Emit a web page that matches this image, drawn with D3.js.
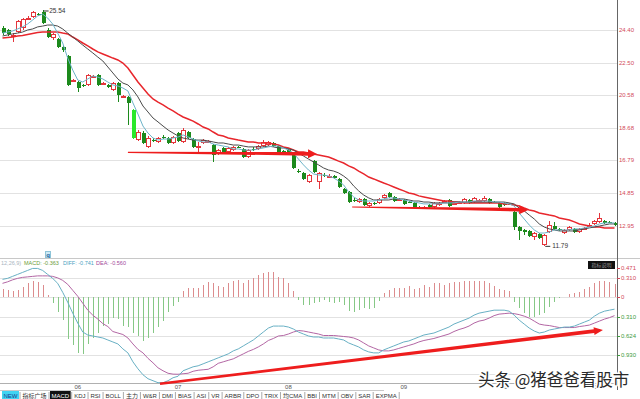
<!DOCTYPE html>
<html>
<head>
<meta charset="utf-8">
<title>K线 MACD</title>
<style>
  body { margin: 0; background: #fff; }
  svg { display: block; }
</style>
</head>
<body>
<script src="https://d3js.org/d3.v7.min.js"></script>
<script>
// daily candles
const opens = [
  24.52,24.40,23.99,24.28,24.52,25.04,25.16,25.33,25.45,24.40,
  23.93,23.87,23.41,22.88,21.42,21.36,21.19,21.19,21.65,21.77,
  21.25,21.19,20.90,21.30,20.49,20.49,19.73,17.97,18.38,17.57,
  17.97,17.86,18.15,18.09,17.80,18.38,17.86,18.44,18.03,17.51,
  17.80,17.86,17.68,17.16,17.51,17.27,17.39,17.57,17.45,16.98,
  17.45,17.45,17.62,17.68,17.80,17.62,17.33,17.39,17.10,16.16,
  16.05,15.52,16.75,15.52,15.93,15.84,15.87,15.70,15.11,14.94,
  14.47,14.36,14.53,14.12,14.30,14.30,14.59,14.88,14.65,14.50,
  14.47,14.36,14.30,14.03,14.03,14.18,14.06,14.18,14.38,14.47,
  14.27,14.33,14.30,14.47,14.36,14.44,14.41,14.53,14.36,14.30,
  14.30,14.24,13.77,12.90,12.72,12.66,12.31,12.49,11.84,12.60,
  12.95,12.78,12.55,12.72,12.78,12.60,12.81,12.98,13.07,13.19,
  13.24,13.19,13.13];
const highs = [
  24.63,24.46,24.22,24.98,25.10,25.22,25.51,25.39,25.54,24.52,
  24.22,23.93,23.52,22.94,21.54,21.42,21.25,21.83,21.77,21.83,
  21.36,21.25,21.36,21.36,20.60,20.55,19.79,18.56,18.50,18.21,
  18.09,18.15,18.27,18.15,18.21,18.44,18.68,18.50,18.09,17.86,
  18.03,17.97,17.74,17.45,17.57,17.57,17.62,17.62,17.51,17.45,
  17.57,17.68,17.97,17.91,17.86,17.68,17.39,17.45,17.16,16.28,
  16.11,15.99,16.81,16.11,16.05,15.99,15.93,15.76,15.17,15.00,
  14.59,14.59,14.59,14.36,14.36,14.59,14.82,14.94,14.71,14.59,
  14.53,14.41,14.36,14.12,14.12,14.24,14.36,14.36,14.47,14.53,
  14.36,14.41,14.59,14.53,14.65,14.53,14.71,14.59,14.41,14.36,
  14.36,14.30,13.83,12.95,12.78,12.72,12.60,12.55,12.49,13.24,
  13.19,12.84,12.78,12.95,12.84,12.84,12.90,13.13,13.30,13.71,
  13.30,13.24,13.19];
const lows = [
  24.11,24.05,23.70,24.22,24.40,24.98,25.10,25.22,24.75,23.93,
  23.82,23.35,23.12,21.13,21.36,20.78,21.07,21.13,21.60,21.13,
  21.19,21.01,20.84,20.19,20.43,18.85,18.03,17.91,17.74,17.51,
  17.86,17.80,18.03,17.74,17.74,17.86,17.80,18.03,17.51,17.22,
  17.74,17.80,16.69,17.10,17.16,17.22,17.33,17.51,16.92,16.92,
  17.33,17.39,17.57,17.62,17.57,17.22,17.22,17.16,16.28,16.05,
  15.64,15.46,16.05,15.11,15.81,15.76,15.70,15.17,14.82,14.30,
  14.36,14.30,14.12,14.06,14.18,14.24,14.53,14.59,14.36,14.47,
  14.18,14.30,14.01,13.95,14.01,14.01,14.01,14.12,14.36,14.06,
  14.24,14.30,14.24,14.24,14.30,14.41,14.36,14.24,14.30,14.01,
  14.12,14.18,12.72,12.13,12.43,12.31,12.13,12.19,11.79,12.55,
  12.72,12.66,12.49,12.66,12.55,12.55,12.78,12.95,13.01,13.13,
  13.07,13.13,12.95];
const closes = [
  24.22,24.17,24.11,24.93,25.04,25.10,25.45,25.28,24.81,23.99,
  24.17,23.41,23.23,21.19,21.48,21.01,21.16,21.77,21.71,21.19,
  21.30,21.07,21.30,20.60,20.55,20.14,18.09,18.44,17.80,18.09,
  17.94,18.09,18.12,17.80,18.15,17.91,18.56,18.09,17.57,17.62,
  17.97,17.89,17.10,17.39,17.22,17.51,17.57,17.54,16.98,17.39,
  17.42,17.62,17.86,17.86,17.62,17.27,17.30,17.22,16.34,16.13,
  15.70,15.93,16.11,16.05,15.90,15.87,15.76,15.23,14.88,14.36,
  14.44,14.53,14.18,14.30,14.24,14.53,14.76,14.65,14.41,14.53,
  14.24,14.33,14.06,14.01,14.06,14.06,14.30,14.30,14.41,14.12,
  14.30,14.36,14.53,14.30,14.59,14.47,14.59,14.30,14.33,14.06,
  14.18,14.21,12.90,12.66,12.60,12.37,12.55,12.25,12.43,13.01,
  12.78,12.75,12.72,12.90,12.60,12.78,12.84,13.01,13.24,13.42,
  13.13,13.16,13.01];

// moving average lines as drawn
const ma5 = [
  24.22,24.28,24.34,24.46,24.58,24.75,24.98,25.22,25.33,25.10,
  24.75,24.22,23.64,22.76,22.06,21.48,21.36,21.54,21.71,21.65,
  21.54,21.36,21.19,21.13,21.01,20.84,20.14,19.49,18.79,18.38,
  18.09,17.97,18.03,18.03,18.09,18.15,18.27,18.15,18.03,17.92,
  17.86,17.86,17.74,17.68,17.62,17.57,17.45,17.45,17.39,17.39,
  17.39,17.45,17.51,17.57,17.62,17.62,17.51,17.39,17.21,16.86,
  16.52,16.22,15.99,15.93,15.93,15.87,15.76,15.58,15.35,14.94,
  14.65,14.47,14.41,14.41,14.41,14.47,14.53,14.59,14.59,14.53,
  14.47,14.41,14.35,14.30,14.24,14.24,14.24,14.24,14.30,14.30,
  14.30,14.35,14.35,14.35,14.41,14.41,14.41,14.41,14.35,14.35,
  14.30,14.24,14.12,13.71,13.36,13.01,12.72,12.54,12.54,12.60,
  12.72,12.72,12.72,12.72,12.78,12.78,12.84,12.89,12.95,13.07,
  13.13,13.13,13.13];
const ma10 = [
  24.05,24.11,24.17,24.22,24.28,24.40,24.46,24.58,24.63,24.69,
  24.69,24.63,24.46,24.22,23.99,23.76,23.52,23.29,23.06,22.82,
  22.59,22.24,21.89,21.54,21.30,21.19,20.90,20.49,19.96,19.61,
  19.26,19.03,18.79,18.56,18.38,18.21,18.09,18.03,17.97,17.97,
  17.97,17.92,17.86,17.80,17.80,17.74,17.68,17.68,17.62,17.57,
  17.57,17.57,17.57,17.62,17.57,17.51,17.51,17.45,17.39,17.21,
  17.04,16.86,16.69,16.52,16.34,16.22,16.16,16.05,15.87,15.64,
  15.29,15.00,14.76,14.59,14.47,14.47,14.47,14.47,14.53,14.53,
  14.53,14.47,14.41,14.41,14.35,14.35,14.30,14.30,14.30,14.30,
  14.35,14.35,14.35,14.35,14.35,14.35,14.35,14.35,14.35,14.35,
  14.35,14.30,14.24,14.00,13.83,13.59,13.36,13.07,12.89,12.78,
  12.72,12.66,12.66,12.66,12.66,12.72,12.78,12.84,12.89,12.95,
  13.01,13.07,13.07];
const ma20 = [
  23.93,23.96,23.99,24.05,24.08,24.14,24.20,24.25,24.28,24.28,
  24.28,24.28,24.22,24.17,23.99,23.82,23.64,23.47,23.29,23.12,
  23.00,22.88,22.76,22.65,22.47,22.18,21.77,21.36,21.01,20.66,
  20.37,20.19,20.02,19.84,19.67,19.49,19.32,19.20,19.08,18.91,
  18.73,18.62,18.44,18.27,18.21,18.09,18.03,17.97,17.92,17.86,
  17.86,17.80,17.80,17.80,17.74,17.68,17.57,17.51,17.39,17.27,
  17.27,17.21,17.16,17.10,17.04,16.98,16.86,16.74,16.63,16.46,
  16.34,16.16,15.99,15.81,15.70,15.58,15.46,15.35,15.23,15.11,
  15.00,14.88,14.82,14.71,14.65,14.59,14.53,14.47,14.41,14.41,
  14.35,14.35,14.30,14.30,14.30,14.30,14.30,14.30,14.30,14.30,
  14.24,14.24,14.18,14.12,14.00,13.89,13.83,13.71,13.65,13.59,
  13.54,13.42,13.36,13.30,13.19,13.07,13.01,12.95,12.89,12.89,
  12.84,12.84,12.84];

// MACD(12,26,9)
const diff = [
  0.288,0.304,0.336,0.368,0.400,0.432,0.464,0.464,0.432,0.368,
  0.304,0.224,0.080,-0.080,-0.256,-0.416,-0.560,-0.608,-0.624,-0.640,
  -0.656,-0.688,-0.720,-0.752,-0.832,-0.896,-1.040,-1.152,-1.248,-1.312,
  -1.344,-1.376,-1.376,-1.344,-1.296,-1.272,-1.184,-1.152,-1.120,-1.104,
  -1.072,-1.040,-1.008,-0.976,-0.944,-0.912,-0.864,-0.832,-0.784,-0.736,
  -0.688,-0.624,-0.560,-0.496,-0.464,-0.464,-0.464,-0.480,-0.512,-0.560,
  -0.592,-0.624,-0.640,-0.640,-0.656,-0.656,-0.656,-0.672,-0.688,-0.736,
  -0.768,-0.800,-0.848,-0.880,-0.896,-0.896,-0.848,-0.816,-0.784,-0.752,
  -0.720,-0.704,-0.672,-0.640,-0.608,-0.592,-0.576,-0.544,-0.512,-0.480,
  -0.432,-0.400,-0.368,-0.336,-0.288,-0.256,-0.240,-0.224,-0.208,-0.208,
  -0.208,-0.224,-0.288,-0.368,-0.432,-0.496,-0.544,-0.576,-0.560,-0.528,
  -0.512,-0.496,-0.480,-0.480,-0.464,-0.432,-0.400,-0.368,-0.304,-0.256,
  -0.224,-0.208,-0.192];
const dea = [
  0.224,0.248,0.280,0.304,0.320,0.328,0.336,0.344,0.344,0.344,
  0.336,0.312,0.272,0.208,0.112,0.016,-0.096,-0.208,-0.288,-0.352,
  -0.424,-0.472,-0.552,-0.576,-0.600,-0.656,-0.752,-0.840,-0.896,-0.984,
  -1.056,-1.136,-1.184,-1.224,-1.238,-1.240,-1.232,-1.224,-1.192,-1.176,
  -1.168,-1.160,-1.120,-1.064,-1.040,-1.016,-0.992,-0.952,-0.912,-0.872,
  -0.840,-0.800,-0.752,-0.696,-0.664,-0.624,-0.616,-0.592,-0.560,-0.536,
  -0.544,-0.560,-0.576,-0.592,-0.616,-0.616,-0.616,-0.624,-0.632,-0.640,
  -0.656,-0.688,-0.736,-0.784,-0.816,-0.848,-0.864,-0.864,-0.848,-0.824,
  -0.800,-0.776,-0.752,-0.720,-0.696,-0.680,-0.664,-0.640,-0.616,-0.592,
  -0.552,-0.520,-0.496,-0.464,-0.416,-0.384,-0.368,-0.336,-0.296,-0.272,
  -0.264,-0.256,-0.264,-0.280,-0.304,-0.336,-0.384,-0.432,-0.448,-0.456,
  -0.472,-0.488,-0.488,-0.488,-0.488,-0.472,-0.461,-0.448,-0.416,-0.384,
  -0.352,-0.328,-0.296];
const macd = [
  0.128,0.112,0.096,0.112,0.160,0.224,0.256,0.240,0.192,0.032,
  -0.096,-0.240,-0.368,-0.672,-0.768,-0.896,-0.912,-0.752,-0.656,-0.576,
  -0.464,-0.432,-0.336,-0.352,-0.464,-0.480,-0.576,-0.624,-0.704,-0.656,
  -0.576,-0.480,-0.384,-0.240,-0.144,-0.080,0.096,0.144,0.144,0.144,
  0.192,0.240,0.224,0.176,0.160,0.224,0.256,0.272,0.224,0.272,
  0.304,0.352,0.384,0.400,0.400,0.320,0.304,0.224,0.096,-0.048,
  -0.128,-0.128,-0.096,-0.080,-0.048,-0.080,-0.096,-0.080,-0.128,-0.224,
  -0.240,-0.208,-0.176,-0.192,-0.176,-0.064,0.064,0.112,0.144,0.144,
  0.144,0.176,0.128,0.144,0.192,0.160,0.224,0.224,0.192,0.224,
  0.240,0.240,0.256,0.256,0.256,0.256,0.256,0.224,0.176,0.128,
  0.112,0.096,-0.080,-0.176,-0.256,-0.320,-0.320,-0.288,-0.256,-0.160,
  -0.080,-0.016,0.008,0.048,0.064,0.088,0.136,0.168,0.224,0.264,
  0.264,0.240,0.208];

const priceTicks = [24.40, 22.50, 20.58, 18.68, 16.79, 14.85, 12.95];
const macdTicks = [0.471, 0.310, 0, -0.310, -0.624, -0.930];
const macdGrid = [0.310, 0, -0.310, -0.624, -0.930, -1.240];
const months = ["06", "07", "08", "09", "10", "11"];
const monthStart = [15, 35, 57, 80, 100, 118];
const tabs = ["NEW","指标广场","MACD","KDJ","RSI","BOLL","主力","W&R","DMI","BIAS","ASI",
              "VR","ARBR","DPO","TRIX","均CMA","BBI","MTM","OBV","SAR","EXPMA"];
// marked extremes and the hand-drawn arrows (bar index, value)
const highMark = [8, 25.54];
const lowMark = [108, 11.79];
const priceArrows = [[25.0, 17.25, 62.7, 17.16], [69.7, 14.06, 104.8, 13.89]];
const macdArrows = [[31.4, -1.392, 119.7, -0.528]];

const W = 640, H = 399, axisX = 617;
const font = '"Liberation Sans", Arial, "Noto Sans CJK SC", sans-serif';
const upCol = "#e4353b", downCol = "#1c8a1c", brightCol = "#2ae82a";

const x = d3.scaleLinear().domain([0, closes.length - 1]).range([2.5, 614.5]);
const y = d3.scaleLinear().domain([12.95, 24.40]).range([226, 30]);
const ym = d3.scaleLinear().domain([-0.930, 0.310]).range([355, 278]);
const cx = i => Math.round(x(i)) + 0.5;

const svg = d3.select("body").append("svg")
    .attr("width", W).attr("height", H)
    .style("font-family", font);

const defs = svg.append("defs");
defs.append("clipPath").attr("id", "clipP")
    .append("rect").attr("x", 0).attr("y", 0).attr("width", axisX).attr("height", 258);
defs.append("clipPath").attr("id", "clipM")
    .append("rect").attr("x", 0).attr("y", 258).attr("width", axisX).attr("height", 126);

// grid lines
svg.append("g").selectAll("line").data(priceTicks).enter().append("line")
    .attr("x1", 0).attr("x2", axisX)
    .attr("y1", d => Math.round(y(d)) + 0.5).attr("y2", d => Math.round(y(d)) + 0.5)
    .attr("stroke", "#e2e2e2");
svg.append("g").selectAll("line").data(macdGrid).enter().append("line")
    .attr("x1", 0).attr("x2", axisX)
    .attr("y1", d => Math.round(ym(d)) + 0.5).attr("y2", d => Math.round(ym(d)) + 0.5)
    .attr("stroke", "#e2e2e2");

// panel separators
svg.append("line").attr("x1", 0).attr("x2", W).attr("y1", 258.5).attr("y2", 258.5).attr("stroke", "#c8c8c8");
svg.append("line").attr("x1", 0).attr("x2", axisX).attr("y1", 383.5).attr("y2", 383.5).attr("stroke", "#b0b0b0");
svg.append("line").attr("x1", axisX + 0.5).attr("x2", axisX + 0.5).attr("y1", 0).attr("y2", 390).attr("stroke", "#666");

// candles
const cg = svg.append("g").attr("clip-path", "url(#clipP)").attr("shape-rendering", "crispEdges");
closes.forEach((c, i) => {
    const o = opens[i];
    const up = c >= o;
    const col = up ? upCol : (i === 26 ? brightCol : downCol);
    const xc = cx(i);
    const top = Math.round(y(Math.max(o, c)));
    const bot = Math.round(y(Math.min(o, c)));
    const h = Math.max(1, bot - top);
    if (up) {
        cg.append("line").attr("x1", xc).attr("x2", xc)
            .attr("y1", y(highs[i])).attr("y2", top).attr("stroke", col);
        cg.append("line").attr("x1", xc).attr("x2", xc)
            .attr("y1", top + h).attr("y2", y(lows[i])).attr("stroke", col);
        cg.append("rect").attr("x", xc - 2).attr("y", top + 0.5)
            .attr("width", 4).attr("height", Math.max(1, h - 1))
            .attr("fill", "#fff").attr("stroke", col);
    } else {
        cg.append("line").attr("x1", xc).attr("x2", xc)
            .attr("y1", y(highs[i])).attr("y2", y(lows[i])).attr("stroke", col);
        cg.append("rect").attr("x", xc - 2).attr("y", top)
            .attr("width", 4).attr("height", h).attr("fill", col);
    }
});

// MA lines
const lineP = arr => d3.line().x((d, i) => x(i)).y(d => y(d))(arr);
const lg = svg.append("g").attr("clip-path", "url(#clipP)").attr("fill", "none");
lg.append("path").attr("d", lineP(ma20)).attr("stroke", "#e8262c").attr("stroke-width", 1.5);
lg.append("path").attr("d", lineP(ma10)).attr("stroke", "#4a4a4a").attr("stroke-width", 1);
lg.append("path").attr("d", lineP(ma5)).attr("stroke", "#6db4c9").attr("stroke-width", 1);

// high / low markers
const mk = svg.append("g").attr("font-size", "6.5px").attr("fill", "#333");
mk.append("line").attr("x1", x(highMark[0]) + 1).attr("x2", x(highMark[0]) + 6)
    .attr("y1", y(highMark[1]) + 0.5).attr("y2", y(highMark[1]) + 0.5).attr("stroke", "#333");
mk.append("text").attr("x", x(highMark[0]) + 6.5).attr("y", y(highMark[1]) + 2.5).text(highMark[1].toFixed(2));
mk.append("line").attr("x1", x(lowMark[0]) + 1).attr("x2", x(lowMark[0]) + 6)
    .attr("y1", y(lowMark[1]) + 0.5).attr("y2", y(lowMark[1]) + 0.5).attr("stroke", "#333");
mk.append("text").attr("x", x(lowMark[0]) + 8).attr("y", y(lowMark[1]) + 2.5).text(lowMark[1].toFixed(2));

// MACD histogram and lines
const mg = svg.append("g").attr("clip-path", "url(#clipM)");
mg.append("g").attr("shape-rendering", "crispEdges").selectAll("line").data(macd).enter().append("line")
    .attr("x1", (d, i) => cx(i)).attr("x2", (d, i) => cx(i))
    .attr("y1", ym(0)).attr("y2", d => ym(d))
    .attr("stroke", d => d >= 0 ? "#dc8c8e" : "#86c886");
const lineM = arr => d3.line().x((d, i) => x(i)).y(d => ym(d))(arr);
mg.append("path").attr("d", lineM(dea)).attr("fill", "none").attr("stroke", "#b366a4").attr("stroke-width", 1);
mg.append("path").attr("d", lineM(diff)).attr("fill", "none").attr("stroke", "#68b0c4").attr("stroke-width", 1);

// right axis labels
const ax = svg.append("g").attr("font-size", "6px");
ax.selectAll("text.p").data(priceTicks).enter().append("text")
    .attr("x", axisX + 2).attr("y", d => y(d) + 2)
    .attr("fill", "#d24a5a").text(d => d.toFixed(2));
ax.selectAll("line.m").data(macdTicks).enter().append("line")
    .attr("x1", axisX).attr("x2", axisX + 3)
    .attr("y1", d => Math.round(ym(d)) + 0.5).attr("y2", d => Math.round(ym(d)) + 0.5)
    .attr("stroke", d => d >= 0 ? "#d24a5a" : "#3e9a3e");
ax.selectAll("text.m").data(macdTicks).enter().append("text")
    .attr("x", axisX + 4).attr("y", d => ym(d) + 2)
    .attr("fill", d => d >= 0 ? "#d24a5a" : "#3e9a3e")
    .text(d => d === 0 ? "0" : Math.abs(d).toFixed(3));

// month labels
svg.append("g").attr("font-size", "6px").attr("fill", "#555").attr("text-anchor", "middle")
    .selectAll("text").data(months).enter().append("text")
    .attr("x", (d, k) => x(monthStart[k])).attr("y", 389).text(d => d);

// MACD header
const hd = svg.append("g").attr("font-size", "5.5px");
[["12,26,9)", "#a9b4c0", 1], ["MACD: -0.363", "#6d9d3a", 24],
 ["DIFF: -0.741", "#4aa2c2", 63], ["DEA: -0.560", "#a2489a", 96]].forEach(t => {
    hd.append("text").attr("x", t[2]).attr("y", 265).attr("fill", t[1]).text(t[0]);
});
svg.append("rect").attr("x", 45.5).attr("y", 251.5).attr("width", 5).attr("height", 6)
    .attr("fill", "#cdeaf6").attr("stroke", "#8fc4d8");
svg.append("text").attr("x", 48).attr("y", 256.5).attr("text-anchor", "middle")
    .attr("font-size", "6px").attr("font-weight", "bold").attr("fill", "#1f5f9a").text("q");
svg.append("rect").attr("x", 588).attr("y", 261).attr("width", 27).attr("height", 8).attr("fill", "#111");
svg.append("text").attr("x", 601.5).attr("y", 267).attr("text-anchor", "middle")
    .attr("font-size", "5px").attr("fill", "#999").text("指标说明");

// hand-drawn red arrows
function arrow(g, x1, y1, x2, y2, w0, w1, hl, hw) {
    const dx = x2 - x1, dy = y2 - y1, len = Math.hypot(dx, dy);
    const ux = dx / len, uy = dy / len, nx = -uy, ny = ux;
    const bx = x2 - ux * hl, by = y2 - uy * hl;
    const pts = [
        [x1 + nx * w0 / 2, y1 + ny * w0 / 2], [bx + nx * w1 / 2, by + ny * w1 / 2],
        [bx + nx * hw, by + ny * hw], [x2, y2], [bx - nx * hw, by - ny * hw],
        [bx - nx * w1 / 2, by - ny * w1 / 2], [x1 - nx * w0 / 2, y1 - ny * w0 / 2]];
    g.append("polygon").attr("points", pts.map(p => p.join(",")).join(" ")).attr("fill", "#ee1d1d");
}
const ag = svg.append("g");
priceArrows.forEach(a => arrow(ag, x(a[0]), y(a[1]), x(a[2]), y(a[3]), 1.2, 3.6, 9, 4.5));
macdArrows.forEach(a => arrow(ag, x(a[0]), ym(a[1]), x(a[2]), ym(a[3]), 2.4, 3.6, 9, 4));

// indicator tabs
const tg = svg.append("g").attr("font-size", "6px");
tg.append("line").attr("x1", 0).attr("x2", 384).attr("y1", 390.5).attr("y2", 390.5).attr("stroke", "#c8c8c8");
let tx = 2;
tabs.forEach((t, k) => {
    const txt = tg.append("text").attr("x", tx + 1.5).attr("y", 397.5).attr("fill", "#333").text(t);
    const w = txt.node().getComputedTextLength() + 3;
    if (k === 0) {
        tg.insert("rect", () => txt.node()).attr("x", tx).attr("y", 391).attr("width", w).attr("height", 8).attr("fill", "#3fd4f2");
        txt.attr("fill", "#1a3c8c");
    } else if (t === "MACD") {
        tg.insert("rect", () => txt.node()).attr("x", tx).attr("y", 391).attr("width", w).attr("height", 8).attr("fill", "#111");
        txt.attr("fill", "#fff");
    }
    tg.append("line").attr("x1", tx + w + 1).attr("x2", tx + w + 1).attr("y1", 392).attr("y2", 399).attr("stroke", "#aaa");
    tx += w + 2;
});

// watermark
svg.append("text").attr("x", 478).attr("y", 386)
    .style("font-family", '"Noto Sans CJK SC", sans-serif').style("font-size", "16.5px")
    .attr("fill", "#2a2a2a").attr("stroke", "#fff").attr("stroke-width", 3)
    .attr("paint-order", "stroke").attr("stroke-linejoin", "round")
    .text("头条 @猪爸爸看股市");
</script>
</body>
</html>
